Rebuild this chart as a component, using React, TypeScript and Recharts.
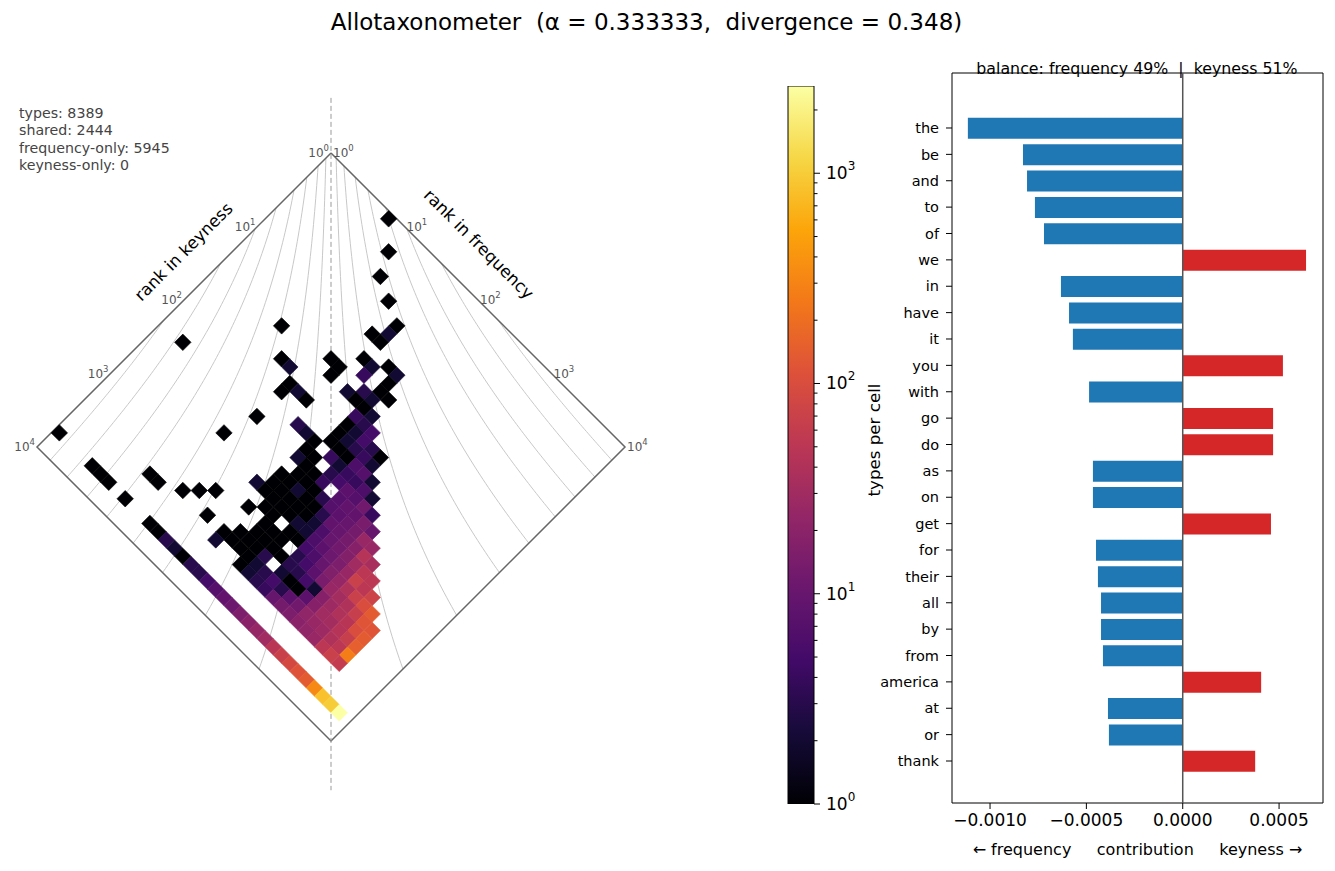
import React from "react";
import {
  ComposedChart,
  Line,
  Scatter,
  XAxis,
  YAxis,
  BarChart,
  Bar,
  Cell,
  ReferenceLine,
  ReferenceArea,
} from "recharts";

const FONT = "'DejaVu Sans', sans-serif";

const title = "Allotaxonometer  (\u03b1 = 0.333333,  divergence = 0.348)";
const statLines = ["types: 8389", "shared: 2444", "frequency-only: 5945", "keyness-only: 0"];

// histogram bin width in log10(rank), and colour scale top
const BIN = 0.112;
const VMAX = 2600;

// [keyness bin, first frequency bin, counts for consecutive frequency bins] (0 = empty)
const heatRows: [number, number, number[]][] = [
  [0, 7, [1]],
  [2, 9, [1]],
  [4, 10, [1]],
  [5, 12, [1]],
  [6, 14, [1]],
  [7, 14, [2]],
  [8, 13, [1, 1]],
  [9, 16, [1, 2]],
  [10, 14, [1, 2, 0, 1]],
  [11, 15, [4, 0, 1, 1]],
  [12, 12, [1, 1, 0, 0, 3, 2]],
  [13, 7, [1, 0, 0, 0, 0, 0, 1, 0, 2, 1, 1, 2]],
  [14, 17, [4, 3, 5]],
  [15, 9, [1, 2, 0, 0, 0, 0, 0, 0, 1, 2, 5, 3, 1]],
  [16, 11, [1, 2, 1, 0, 0, 0, 1, 2, 3, 4, 2]],
  [17, 11, [1, 0, 0, 0, 0, 0, 1, 1, 1, 6, 7, 2]],
  [18, 14, [3, 2, 1, 0, 4, 2, 4, 4, 6, 2]],
  [19, 16, [1, 1, 0, 3, 5, 8, 7, 12, 4]],
  [20, 2, [1]],
  [20, 11, [1, 0, 0, 0, 0, 2, 1, 1, 4, 0, 7, 9, 9, 14, 10]],
  [21, 17, [1, 1, 1, 3, 7, 8, 10, 13, 25, 25]],
  [22, 16, [1, 1, 2, 1, 1, 3, 9, 10, 13, 18, 45, 35]],
  [23, 10, [1]],
  [23, 16, [1, 1, 1, 1, 1, 2, 6, 10, 12, 17, 30, 50, 50]],
  [24, 15, [2, 1, 1, 1, 1, 2, 2, 6, 8, 11, 15, 25, 70, 50, 75]],
  [25, 17, [1, 1, 0, 1, 1, 5, 6, 10, 16, 24, 40, 70, 100, 140]],
  [26, 16, [1, 0, 1, 1, 1, 0, 3, 5, 8, 14, 25, 32, 40, 65, 120, 120]],
  [27, 13, [1]],
  [27, 18, [1, 1, 1, 1, 3, 3, 5, 2, 18, 28, 40, 47, 100, 140]],
  [28, 12, [1]],
  [28, 17, [1, 1, 1, 3, 0, 2, 1, 1, 8, 18, 30, 32, 45, 65, 150]],
  [29, 11, [1, 0, 0, 1, 0, 1, 1, 1, 1, 2, 3, 5, 3, 8, 12, 22, 25, 28, 40, 50, 270]],
  [30, 8, [1, 1]],
  [30, 16, [2, 0, 0, 1, 2, 3, 4, 10, 13, 15, 19, 22, 25, 50, 70, 60]],
  [33, 0, [1, 0, 0, 0, 1, 1, 1, 0, 1, 0, 0, 1, 1, 3, 2, 1, 3, 3, 5, 7, 9, 11, 15, 19, 24, 30, 48, 68, 88, 115, 140, 330, 850, 1000, 2600]],
];

// contour levels of |r1^-a - r2^-a| drawn as guides
const ALPHA = 1 / 3;
const contourLevels = [0.052, 0.126, 0.223, 0.32, 0.436, 0.547, 0.684, 0.825];
const edgeDecades = [0, 1, 2, 3, 4];

const words = [
  "the", "be", "and", "to", "of", "we", "in", "have", "it", "you", "with", "go", "do",
  "as", "on", "get", "for", "their", "all", "by", "from", "america", "at", "or", "thank",
];
const contributions = [
  -0.001115, -0.000829, -0.000808, -0.000767, -0.00072, 0.00064, -0.000632, -0.00059,
  -0.00057, 0.00052, -0.000486, 0.000469, 0.000469, -0.000466, -0.000466, 0.000458,
  -0.00045, -0.00044, -0.000424, -0.000424, -0.000414, 0.000407, -0.000388, -0.000383,
  0.000376,
];
const xTicks = [-0.001, -0.0005, 0, 0.0005];
const X_MIN = -0.0011974;
const X_MAX = 0.000728;
const ROW_DOMAIN: [number, number] = [-2.085, 25.592];

const cbMajor = [1, 10, 100, 1000];
const cbMinor = [2, 3, 4, 5, 6, 7, 8, 9, 20, 30, 40, 50, 60, 70, 80, 90, 200, 300, 400, 500, 600, 700, 800, 900, 2000];

const INFERNO = [
  "#000004", "#160b39", "#420a68", "#6a176e", "#932667", "#bc3754",
  "#dd513a", "#f37819", "#fca50a", "#f6d746", "#fcffa4",
];

function inferno(t: number) {
  const p = Math.max(0, Math.min(1, t)) * 10;
  const i = Math.min(9, Math.floor(p));
  const f = p - i;
  const a = INFERNO[i], b = INFERNO[i + 1];
  const ch = (s: string, k: number) => parseInt(s.slice(1 + 2 * k, 3 + 2 * k), 16);
  const out = [0, 1, 2].map((k) => Math.round(ch(a, k) + (ch(b, k) - ch(a, k)) * f));
  return `rgb(${out[0]},${out[1]},${out[2]})`;
}

// left panel geometry
const L_W = 700;
const L_H = 871;
const L_MARGIN = { top: 79.5, right: 38.25, bottom: 56.5, left: 0.25 };
const X_DOM: [number, number] = [-4.5, 4.5];
const Y_DOM: [number, number] = [-1, 9];
const PX_PER_UNIT = (L_W - L_MARGIN.left - L_MARGIN.right) / (X_DOM[1] - X_DOM[0]);

const cells = heatRows.flatMap(([i, j0, counts]) =>
  counts
    .map((c, n) => ({ i, j: j0 + n, c }))
    .filter((d) => d.c > 0)
    .map((d) => ({ x: (d.j - d.i) * BIN, y: (d.i + d.j + 1) * BIN, c: d.c }))
);

const contours = contourLevels.flatMap((c) => {
  const u0 = -Math.log10(1 - c) / ALPHA;
  const pts: { x: number; y: number }[] = [];
  for (let n = 0; n <= 80; n++) {
    const u = u0 + ((4 - u0) * n) / 80;
    const v = -Math.log10(Math.pow(10, -ALPHA * u) + c) / ALPHA;
    pts.push({ x: v - u, y: u + v });
  }
  return [pts, pts.map((p) => ({ x: -p.x, y: p.y }))];
});

const outline = [
  { x: 0, y: 0 }, { x: -4, y: 4 }, { x: 0, y: 8 }, { x: 4, y: 4 }, { x: 0, y: 0 },
];
const centerLine = [{ x: 0, y: -0.75 }, { x: 0, y: 8.67 }];

const edgeLabels = [
  ...edgeDecades.map((d) => ({ x: -d, y: d, d, side: "L" })),
  ...edgeDecades.map((d) => ({ x: d, y: d, d, side: "R" })),
];
const axisTitles = [
  { x: -2.007, y: 1.34, text: "rank in keyness", rot: -45 },
  { x: 2.014, y: 1.238, text: "rank in frequency", rot: 45 },
];

const Diamond = (p: any) => {
  const { cx, cy, payload } = p;
  const h = BIN * PX_PER_UNIT;
  const col = inferno(Math.log10(payload.c) / Math.log10(VMAX));
  return (
    <polygon
      points={`${cx},${cy - h} ${cx + h},${cy} ${cx},${cy + h} ${cx - h},${cy}`}
      fill={col}
      stroke={col}
      strokeWidth={0.6}
    />
  );
};

const EdgeLabel = (p: any) => {
  const { cx, cy, payload } = p;
  const left = payload.side === "L";
  return (
    <text
      x={cx + (left ? -2 : 2)}
      y={cy}
      textAnchor={left ? "end" : "start"}
      dominantBaseline="central"
      fontSize={12}
      fill="#555"
      fontFamily={FONT}
    >
      10<tspan dy={-5} fontSize={8.5}>{payload.d}</tspan>
    </text>
  );
};

const AxisTitle = (p: any) => {
  const { cx, cy, payload } = p;
  return (
    <text
      x={cx}
      y={cy}
      transform={`rotate(${payload.rot} ${cx} ${cy})`}
      textAnchor="middle"
      dominantBaseline="central"
      fontSize={16.7}
      fill="#000"
      fontFamily={FONT}
    >
      {payload.text}
    </text>
  );
};

const CbTick = (p: any) => {
  const { x, y, payload } = p;
  const v = payload.value;
  const major = cbMajor.includes(v);
  const x0 = x - 12;
  return (
    <g>
      <line x1={x0} x2={x0 + (major ? 6 : 3.5)} y1={y} y2={y} stroke="#000" strokeWidth={1} />
      {major && (
        <text x={x} y={y} dominantBaseline="central" fontSize={17} fill="#000" fontFamily={FONT}>
          10<tspan dy={-7} fontSize={12}>{Math.round(Math.log10(v))}</tspan>
        </text>
      )}
    </g>
  );
};

const barData = words.map((w, n) => ({ idx: n, word: w, value: contributions[n] }));
const rowTicks = words.map((_, n) => n);
const cbData = [{ name: "cb", range: [1, VMAX] }];

const fmtX = (v: number) => (v < 0 ? "\u2212" : "") + Math.abs(v).toFixed(4);

export default function App() {
  return (
    <div
      style={{
        position: "absolute",
        left: 0,
        top: 0,
        width: 1335,
        height: 871,
        background: "#fff",
        fontFamily: FONT,
      }}
    >
      <svg width={1335} height={871} style={{ position: "absolute", left: 0, top: 0 }} fontFamily={FONT}>
        <text x={646.5} y={22} textAnchor="middle" dominantBaseline="central" fontSize={23} fill="#000" style={{ whiteSpace: "pre" }}>
          {title}
        </text>
        {statLines.map((s, n) => (
          <text key={s} x={19} y={113 + n * 17.3} dominantBaseline="central" fontSize={14.2} fill="#444">
            {s}
          </text>
        ))}
        <text x={1137} y={68} textAnchor="middle" dominantBaseline="central" fontSize={15.8} fill="#000" style={{ whiteSpace: "pre" }}>
          {"balance: frequency 49%  |  keyness 51%"}
        </text>
        <text x={1137.5} y={849} textAnchor="middle" dominantBaseline="central" fontSize={16} fill="#000" style={{ whiteSpace: "pre" }}>
          {"\u2190 frequency     contribution     keyness \u2192"}
        </text>
        <text x={874} y={440} textAnchor="middle" dominantBaseline="central" fontSize={16.7} fill="#000" transform="rotate(-90 874 440)">
          types per cell
        </text>
      </svg>

      <div style={{ position: "absolute", left: 0, top: 0 }}>
        <ComposedChart width={L_W} height={L_H} margin={L_MARGIN}>
          <XAxis type="number" dataKey="x" domain={X_DOM} hide allowDataOverflow />
          <YAxis type="number" dataKey="y" domain={Y_DOM} reversed hide allowDataOverflow />
          <Scatter data={cells} shape={Diamond} isAnimationActive={false} />
          {contours.map((pts, n) => (
            <Line
              key={`c${n}`}
              data={pts}
              dataKey="y"
              type="linear"
              stroke="#c8c8c8"
              strokeWidth={1}
              dot={false}
              activeDot={false}
              isAnimationActive={false}
            />
          ))}
          <Line data={outline} dataKey="y" type="linear" stroke="#666" strokeWidth={1.5} dot={false} activeDot={false} isAnimationActive={false} />
          <Line data={centerLine} dataKey="y" type="linear" stroke="#999" strokeWidth={1} strokeDasharray="5 3" dot={false} activeDot={false} isAnimationActive={false} />
          <Scatter data={edgeLabels} shape={EdgeLabel} isAnimationActive={false} />
          <Scatter data={axisTitles} shape={AxisTitle} isAnimationActive={false} />
        </ComposedChart>
      </div>

      <div style={{ position: "absolute", left: 760, top: 0 }}>
        <BarChart width={130} height={871} data={cbData} margin={{ top: 86, right: 16, bottom: 67, left: 28 }} barCategoryGap={0}>
          <defs>
            <linearGradient id="infernoGrad" x1="0" y1="1" x2="0" y2="0">
              {INFERNO.map((c, n) => (
                <stop key={c} offset={`${n * 10}%`} stopColor={c} />
              ))}
            </linearGradient>
          </defs>
          <XAxis dataKey="name" hide />
          <YAxis
            orientation="right"
            type="number"
            scale="log"
            domain={[1, VMAX]}
            allowDataOverflow
            ticks={[...cbMajor, ...cbMinor]}
            interval={0}
            tick={CbTick}
            tickLine={false}
            axisLine={false}
            tickSize={6}
            tickMargin={6}
            width={60}
          />
          <Bar dataKey="range" fill="url(#infernoGrad)" stroke="#000" strokeWidth={1} isAnimationActive={false} />
        </BarChart>
      </div>

      <div style={{ position: "absolute", left: 860, top: 0 }}>
        <BarChart layout="vertical" width={475} height={871} data={barData} margin={{ top: 73, right: 12, bottom: 38, left: 0 }}>
          <XAxis
            type="number"
            domain={[X_MIN, X_MAX]}
            allowDataOverflow
            ticks={xTicks}
            tickFormatter={fmtX}
            height={30}
            axisLine={false}
            stroke="#000"
            tickSize={6}
            tickMargin={5}
            tick={{ fill: "#000", fontSize: 17, fontFamily: FONT }}
          />
          <YAxis
            type="number"
            dataKey="idx"
            domain={ROW_DOMAIN}
            allowDataOverflow
            ticks={rowTicks}
            interval={0}
            tickFormatter={(v: number) => words[v] ?? ""}
            width={92}
            axisLine={false}
            stroke="#000"
            tickSize={6}
            tickMargin={7}
            tick={{ fill: "#000", fontSize: 14.5, fontFamily: FONT }}
          />
          <ReferenceArea x1={X_MIN} x2={X_MAX} fill="none" stroke="#000" strokeWidth={1} />
          <Bar dataKey="value" barSize={21} isAnimationActive={false}>
            {barData.map((d) => (
              <Cell key={d.word} fill={d.value < 0 ? "#1f77b4" : "#d62728"} />
            ))}
          </Bar>
          <ReferenceLine x={0} stroke="#555" strokeWidth={1.5} />
        </BarChart>
      </div>
    </div>
  );
}
